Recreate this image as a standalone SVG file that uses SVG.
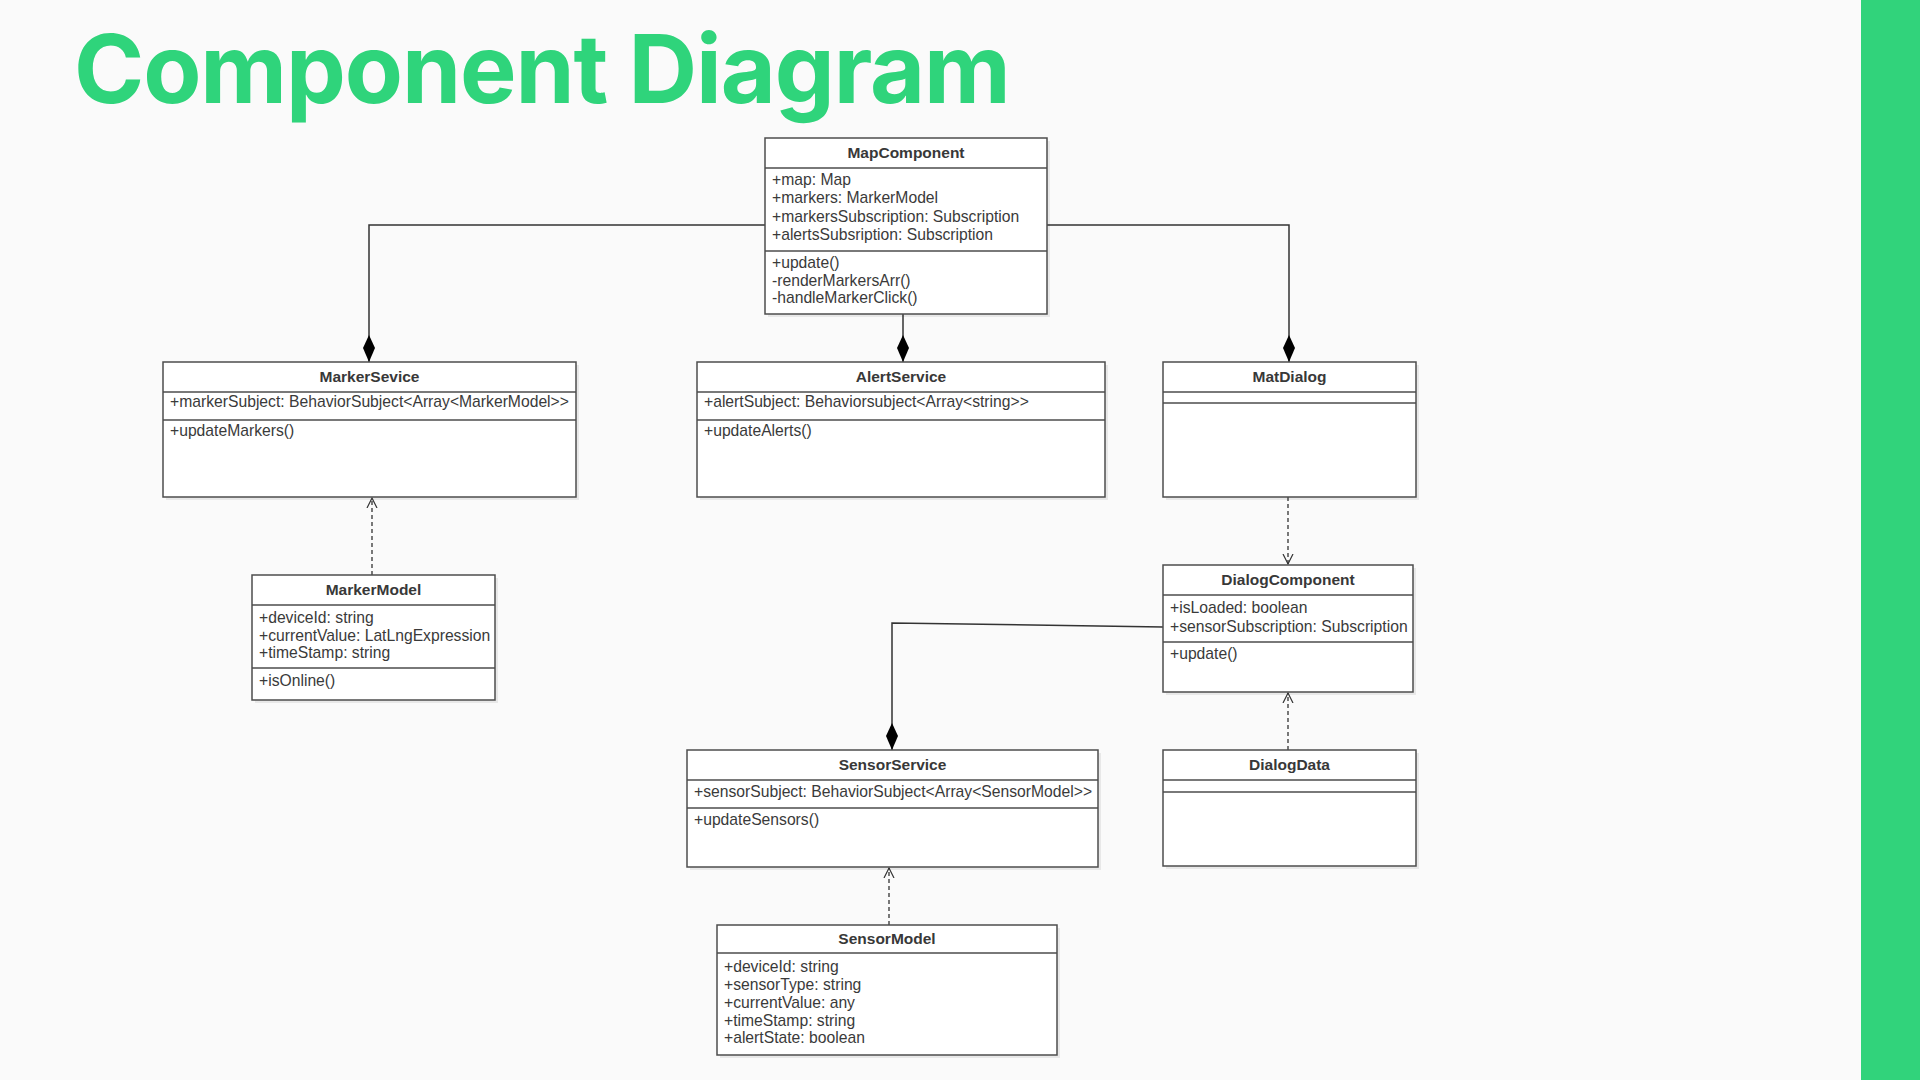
<svg xmlns="http://www.w3.org/2000/svg" width="1920" height="1080" viewBox="0 0 1920 1080">
<defs>
<style>
.bg{fill:#fafafa}
.bar{fill:#31d37b}
.title{font-family:Inter,"Liberation Sans",sans-serif;font-weight:700;font-size:95px;fill:#2fd47b;letter-spacing:-1.1px}
.box{fill:#ffffff;stroke:#4d4d4d;stroke-width:1.5}
.shadow{fill:#000000;opacity:0.07}
.sep{stroke:#4d4d4d;stroke-width:1.5}
.name{font-family:"Liberation Sans",Arial,sans-serif;font-weight:700;font-size:15.5px;fill:#383838;text-anchor:middle}
.attr{font-family:"Liberation Sans",Arial,sans-serif;font-size:15.7px;fill:#3a3a3a}
.conn{fill:none;stroke:#333333;stroke-width:1.5}
.dash{fill:none;stroke:#333333;stroke-width:1.3;stroke-dasharray:4 3}
</style>
<marker id="diamond" markerUnits="userSpaceOnUse" markerWidth="30" markerHeight="14" viewBox="0 -7 28 14" refX="27" refY="0" orient="auto">
<path d="M0,0 L13,-6 L27,0 L13,6 Z" fill="#000000"/>
</marker>
<marker id="open" markerUnits="userSpaceOnUse" markerWidth="12" markerHeight="12" viewBox="0 -6 12 12" refX="10" refY="0" orient="auto">
<path d="M0,-5 L10,0 L0,5" fill="none" stroke="#333333" stroke-width="1.2"/>
</marker>
</defs>
<rect class="bg" x="0" y="0" width="1920" height="1080"/>
<rect class="bar" x="1861" y="0" width="59" height="1080"/>
<text class="title" x="74" y="103">Component Diagram</text>

<g id="connectors">
<path class="conn" d="M765,225 H369 V362" marker-end="url(#diamond)"/>
<path class="conn" d="M903,314 V362" marker-end="url(#diamond)"/>
<path class="conn" d="M1047,225 H1289 V362" marker-end="url(#diamond)"/>
<path class="conn" d="M1163,627 L892,623 V750" marker-end="url(#diamond)"/>
<path class="dash" d="M372,575 V498" marker-end="url(#open)"/>
<path class="dash" d="M1288,497 V564" marker-end="url(#open)"/>
<path class="dash" d="M1288,750 V693" marker-end="url(#open)"/>
<path class="dash" d="M889,925 V868" marker-end="url(#open)"/>
</g>

<g id="MapComponent">
<rect class="shadow" x="768" y="141" width="282" height="176"/>
<rect class="box" x="765" y="138" width="282" height="176"/>
<line class="sep" x1="765" y1="168" x2="1047" y2="168"/>
<line class="sep" x1="765" y1="251" x2="1047" y2="251"/>
<text class="name" x="906" y="158">MapComponent</text>
<text class="attr" x="772" y="185">+map: Map</text>
<text class="attr" x="772" y="203">+markers: MarkerModel</text>
<text class="attr" x="772" y="222">+markersSubscription: Subscription</text>
<text class="attr" x="772" y="240">+alertsSubsription: Subscription</text>
<text class="attr" x="772" y="268">+update()</text>
<text class="attr" x="772" y="286">-renderMarkersArr()</text>
<text class="attr" x="772" y="303">-handleMarkerClick()</text>
</g>

<g id="MarkerSevice">
<rect class="shadow" x="166" y="365" width="413" height="135"/>
<rect class="box" x="163" y="362" width="413" height="135"/>
<line class="sep" x1="163" y1="392" x2="576" y2="392"/>
<line class="sep" x1="163" y1="420" x2="576" y2="420"/>
<text class="name" x="369.5" y="382">MarkerSevice</text>
<text class="attr" x="170" y="407">+markerSubject: BehaviorSubject&lt;Array&lt;MarkerModel&gt;&gt;</text>
<text class="attr" x="170" y="436">+updateMarkers()</text>
</g>

<g id="AlertService">
<rect class="shadow" x="700" y="365" width="408" height="135"/>
<rect class="box" x="697" y="362" width="408" height="135"/>
<line class="sep" x1="697" y1="392" x2="1105" y2="392"/>
<line class="sep" x1="697" y1="420" x2="1105" y2="420"/>
<text class="name" x="901" y="382">AlertService</text>
<text class="attr" x="704" y="407">+alertSubject: Behaviorsubject&lt;Array&lt;string&gt;&gt;</text>
<text class="attr" x="704" y="436">+updateAlerts()</text>
</g>

<g id="MatDialog">
<rect class="shadow" x="1166" y="365" width="253" height="135"/>
<rect class="box" x="1163" y="362" width="253" height="135"/>
<line class="sep" x1="1163" y1="392" x2="1416" y2="392"/>
<line class="sep" x1="1163" y1="403" x2="1416" y2="403"/>
<text class="name" x="1289.5" y="382">MatDialog</text>
</g>

<g id="MarkerModel">
<rect class="shadow" x="255" y="578" width="243" height="125"/>
<rect class="box" x="252" y="575" width="243" height="125"/>
<line class="sep" x1="252" y1="605" x2="495" y2="605"/>
<line class="sep" x1="252" y1="668" x2="495" y2="668"/>
<text class="name" x="373.5" y="595">MarkerModel</text>
<text class="attr" x="259" y="623">+deviceId: string</text>
<text class="attr" x="259" y="641">+currentValue: LatLngExpression</text>
<text class="attr" x="259" y="658">+timeStamp: string</text>
<text class="attr" x="259" y="686">+isOnline()</text>
</g>

<g id="DialogComponent">
<rect class="shadow" x="1166" y="568" width="250" height="127"/>
<rect class="box" x="1163" y="565" width="250" height="127"/>
<line class="sep" x1="1163" y1="595" x2="1413" y2="595"/>
<line class="sep" x1="1163" y1="642" x2="1413" y2="642"/>
<text class="name" x="1288" y="585">DialogComponent</text>
<text class="attr" x="1170" y="613">+isLoaded: boolean</text>
<text class="attr" x="1170" y="632">+sensorSubscription: Subscription</text>
<text class="attr" x="1170" y="659">+update()</text>
</g>

<g id="DialogData">
<rect class="shadow" x="1166" y="753" width="253" height="116"/>
<rect class="box" x="1163" y="750" width="253" height="116"/>
<line class="sep" x1="1163" y1="780" x2="1416" y2="780"/>
<line class="sep" x1="1163" y1="792" x2="1416" y2="792"/>
<text class="name" x="1289.5" y="770">DialogData</text>
</g>

<g id="SensorService">
<rect class="shadow" x="690" y="753" width="411" height="117"/>
<rect class="box" x="687" y="750" width="411" height="117"/>
<line class="sep" x1="687" y1="780" x2="1098" y2="780"/>
<line class="sep" x1="687" y1="808" x2="1098" y2="808"/>
<text class="name" x="892.5" y="770">SensorService</text>
<text class="attr" x="694" y="797">+sensorSubject: BehaviorSubject&lt;Array&lt;SensorModel&gt;&gt;</text>
<text class="attr" x="694" y="825">+updateSensors()</text>
</g>

<g id="SensorModel">
<rect class="shadow" x="720" y="928" width="340" height="130"/>
<rect class="box" x="717" y="925" width="340" height="130"/>
<line class="sep" x1="717" y1="953" x2="1057" y2="953"/>
<text class="name" x="887" y="944">SensorModel</text>
<text class="attr" x="724" y="972">+deviceId: string</text>
<text class="attr" x="724" y="990">+sensorType: string</text>
<text class="attr" x="724" y="1008">+currentValue: any</text>
<text class="attr" x="724" y="1026">+timeStamp: string</text>
<text class="attr" x="724" y="1043">+alertState: boolean</text>
</g>
</svg>
